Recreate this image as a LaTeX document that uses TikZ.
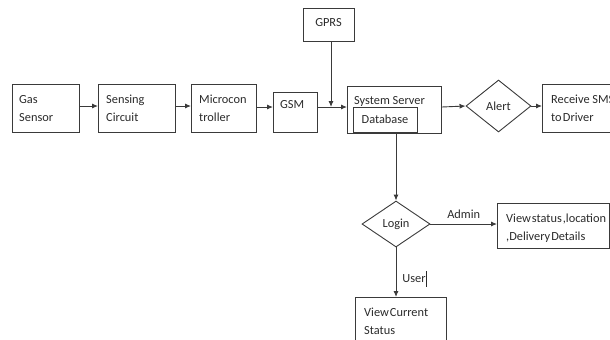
\documentclass[tikz,border=0pt]{standalone}
\usepackage{fontspec}
\setmainfont{Carlito}
\usetikzlibrary{shapes.geometric,arrows.meta}
\definecolor{ink}{HTML}{2A2A2A}
\definecolor{edge}{HTML}{3A3A3A}
% narrow word spacing for the tightly set labels
\newcommand\narrowsp{\spaceskip=0.08em\relax}

\begin{document}
\begin{tikzpicture}[x=1bp,y=-1bp,
  every node/.style={font=\fontsize{12.4}{18}\selectfont, text=ink},
  box/.style={draw=edge, line width=0.9bp, inner sep=0, anchor=north west},
  txt/.style={anchor=north west, align=left, inner sep=0},
  lbl/.style={inner sep=0},
  dia/.style={diamond, draw=edge, line width=0.9bp, inner sep=0},
  arr/.style={draw=edge, line width=0.9bp, -{Latex[length=6bp,width=5bp]}},
  ln/.style={draw=edge, line width=0.9bp}]
\useasboundingbox (0,0) rectangle (610,339);
\clip (0,0) rectangle (610,339);

% sensing chain
\node[box, minimum width=67bp, minimum height=48bp] (gas) at (12,84) {};
\node[txt] (gasT) at (19,95) {Gas\\Sensor};
\node[box, minimum width=77bp, minimum height=48bp] (sen) at (98,84) {};
\node[txt] (senT) at (106,95) {Sensing\\Circuit};
\node[box, minimum width=65bp, minimum height=48bp] (mic) at (191,84) {};
\node[txt] (micT) at (199,95) {Microcon\\troller};
\node[box, minimum width=44bp, minimum height=40bp] (gsm) at (273,92) {};
\node[txt] (gsmT) at (280,100) {GSM};

% GPRS feed
\node[box, minimum width=51bp, minimum height=33bp] (gprs) at (303,8) {};
\node[lbl] (gprsT) at (328.5,23) {GPRS};
\coordinate (join) at (331,107);

% server with database
\node[box, minimum width=94bp, minimum height=47bp] (srv) at (347,86) {};
\node[txt] (srvT) at (354,96) {System Server};
\node[box, minimum width=64bp, minimum height=25bp] (db) at (353,107) {};
\node[lbl] (dbT) at (385,119.5) {Database};

% alert branch
\node[dia, minimum width=65bp, minimum height=52bp] (alert) at (498.5,106) {Alert};
\node[box, minimum width=90bp, minimum height=48bp] (sms) at (542,84) {};
\node[txt] (smsT) at (551,95) {Receive SMS\\to\kern0.1em Driver};

% login branch
\node[dia, minimum width=68bp, minimum height=46bp] (login) at (396,224) {Login};
\node[box, minimum width=112bp, minimum height=45bp] (adm) at (497,203) {};
\node[txt] (admT) at (506,213.5) {\narrowsp View status ,location\\\narrowsp ,Delivery Details};
\node[box, minimum width=91bp, minimum height=60bp] (cur) at (355,297) {};
\node[txt] (curT) at (364,307.5) {\narrowsp View Current\\Status};

% connectors
\draw[arr] (gas.east |- 0,106) -- (sen.west |- 0,106);
\draw[arr] (sen.east |- 0,106) -- (mic.west |- 0,106);
\draw[arr] (mic.east |- 0,107) -- (gsm.west |- 0,107);
\draw[arr] (gsm.east |- join) -- (srv.west |- join);
\draw[arr] (gprs.south -| join) -- (join);
\draw[arr] (srv.east |- 0,107) -- (alert.west);
\draw[arr] (alert.east) -- (sms.west |- alert.east);
\draw[arr] (db.south -| login.north) -- (login.north);
\draw[arr] (login.east) -- (login.east -| adm.west) node[lbl, midway, above=5bp] (admin) {Admin};
\draw[arr] (login.south) -- (login.south |- cur.north);
\node[lbl] (user) at (414,279) {User};
\draw[ink, line width=1.3bp] (426.5,271) -- (426.5,287);
\end{tikzpicture}
\end{document}
